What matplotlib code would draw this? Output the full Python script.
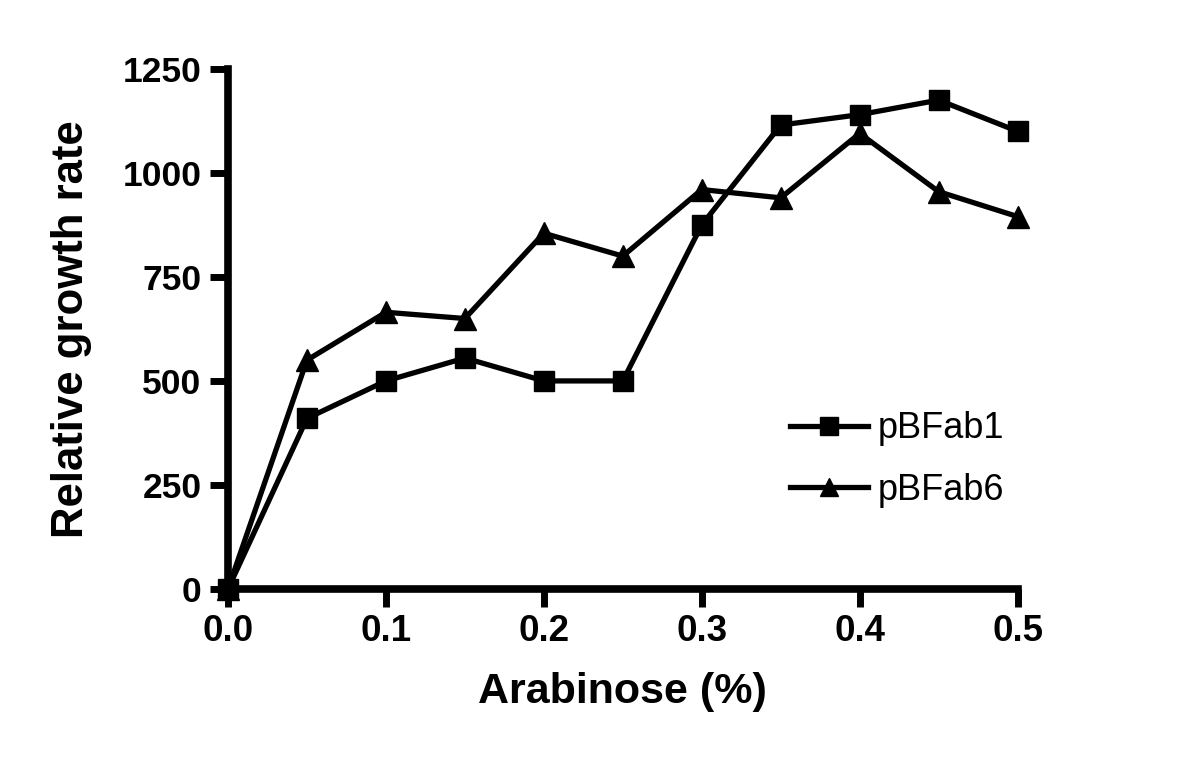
import numpy as np
import matplotlib
matplotlib.use('Agg')
import matplotlib.pyplot as plt

# arabinose concentration (%)
arabinose = [0.0, 0.05, 0.1, 0.15, 0.2, 0.25, 0.3, 0.35, 0.4, 0.45, 0.5]
# relative growth rate per construct
pbfab1 = [0, 410, 500, 555, 500, 500, 875, 1115, 1140, 1175, 1100]
pbfab6 = [0, 550, 665, 650, 855, 800, 960, 940, 1095, 955, 895]

x_ticks = [0.0, 0.1, 0.2, 0.3, 0.4, 0.5]
y_ticks = [0, 250, 500, 750, 1000, 1250]

plt.rcParams['font.family'] = ['Liberation Sans', 'DejaVu Sans']

fig = plt.figure(figsize=(12, 7.57), dpi=100)
ax = fig.add_axes([0.19, 0.222, 0.658, 0.687])

ax.plot(arabinose, pbfab1, color='black', lw=3.8, marker='s', markersize=15,
        label='pBFab1', clip_on=False, zorder=3)
ax.plot(arabinose, pbfab6, color='black', lw=3.8, marker='^', markersize=16,
        label='pBFab6', clip_on=False, zorder=3)

ax.set_xlim(0, 0.5)
ax.set_ylim(0, 1250)
ax.set_xticks(x_ticks)
ax.set_xticklabels(['%.1f' % v for v in x_ticks])
ax.set_yticks(y_ticks)

for side in ['top', 'right']:
    ax.spines[side].set_visible(False)
for side in ['left', 'bottom']:
    ax.spines[side].set_linewidth(5.5)

ax.tick_params(direction='out', length=13, width=5, labelsize=25.5)
ax.tick_params(axis='x', pad=5, labelsize=26.5)
ax.tick_params(axis='y', pad=6)
for lbl in ax.get_xticklabels() + ax.get_yticklabels():
    lbl.set_fontweight('bold')

ax.set_xlabel('Arabinose (%)', fontsize=31, fontweight='bold')
ax.set_ylabel('Relative growth rate', fontsize=31.5, fontweight='bold')
ax.xaxis.set_label_coords(0.5, (589 - 703) / 520)
ax.xaxis.label.set_verticalalignment('baseline')
ax.yaxis.set_label_coords((83 - 228) / 790, 0.5)
ax.yaxis.label.set_verticalalignment('baseline')

ax.legend(loc='center left', bbox_to_anchor=(790 / 1200, 1 - 459.5 / 757),
          bbox_transform=fig.transFigure, frameon=False, fontsize=26,
          handlelength=2.15, handletextpad=0.28, labelspacing=0.74,
          borderpad=0, borderaxespad=0, markerscale=0.85)

fig.savefig('out.png', dpi=100)
